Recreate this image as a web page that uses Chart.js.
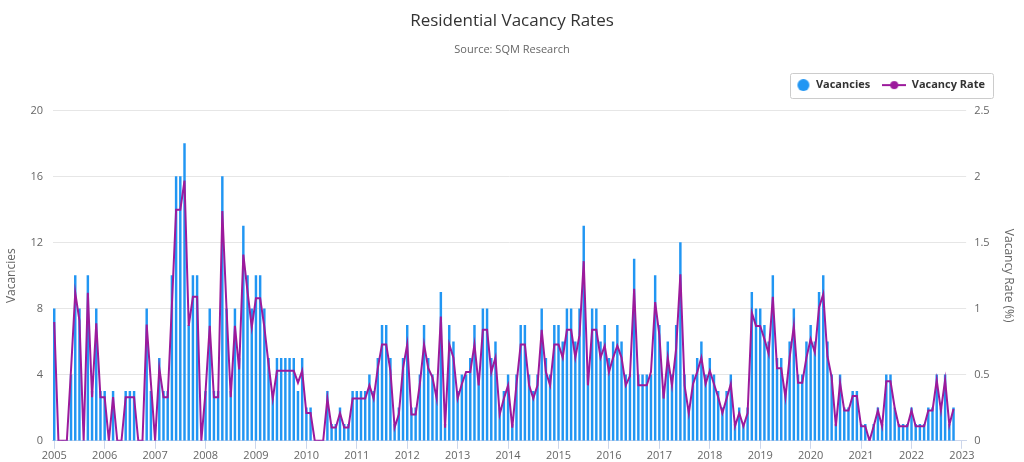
<!DOCTYPE html>
<html>
<head>
<meta charset="utf-8">
<script src="https://cdn.jsdelivr.net/npm/chart.js@4.4.0/dist/chart.umd.min.js"></script>
<style>
    html, body { margin: 0; padding: 0; background: #fff; }
    #wrap { width: 1024px; height: 462px; }
</style>
</head>
<body>
<div id="wrap"><canvas id="vacancyChart"></canvas></div>
<script>
// =============================================
// DATA (monthly, Jan 2005 - Nov 2022)
// =============================================
const yearTicks = ['2005', '2006', '2007', '2008', '2009', '2010', '2011', '2012', '2013', '2014',
    '2015', '2016', '2017', '2018', '2019', '2020', '2021', '2022', '2023'];

const vacancies = [
    8, 0, 0, 0, 4, 10, 8, 0, 10, 3, 8, 3,          // 2005
    3, 0, 3, 0, 0, 3, 3, 3, 0, 0, 8, 3,            // 2006
    0, 5, 3, 3, 10, 16, 16, 18, 7, 10, 10, 0,      // 2007
    3, 8, 3, 3, 16, 8, 3, 8, 5, 13, 10, 8,         // 2008
    10, 10, 8, 5, 3, 5, 5, 5, 5, 5, 3, 5,          // 2009
    2, 2, 0, 0, 0, 3, 1, 1, 2, 1, 1, 3,            // 2010
    3, 3, 3, 4, 3, 5, 7, 7, 5, 1, 2, 5,            // 2011
    7, 2, 2, 4, 7, 5, 4, 3, 9, 1, 7, 6,            // 2012
    3, 4, 4, 5, 7, 4, 8, 8, 5, 6, 2, 3,            // 2013
    4, 1, 4, 7, 7, 4, 3, 4, 8, 5, 4, 7,            // 2014
    7, 6, 8, 8, 6, 8, 13, 4, 8, 8, 6, 7,           // 2015
    5, 6, 7, 6, 4, 4, 11, 4, 4, 4, 4, 10,          // 2016
    7, 3, 6, 4, 7, 12, 4, 2, 4, 5, 6, 4,           // 2017
    5, 4, 3, 2, 3, 4, 1, 2, 1, 2, 9, 8,            // 2018
    8, 7, 6, 10, 5, 5, 3, 6, 8, 4, 4, 6,           // 2019
    7, 6, 9, 10, 6, 4, 1, 4, 2, 2, 3, 3,           // 2020
    1, 1, 0, 1, 2, 1, 4, 4, 2, 1, 1, 1,            // 2021
    2, 1, 1, 1, 2, 2, 4, 2, 4, 1, 2                // 2022
];

const vacancyRate = [
    0.90, 0, 0, 0, 0.54, 1.12, 0.91, 0, 1.12, 0.33, 0.89, 0.33,
    0.33, 0, 0.33, 0, 0, 0.33, 0.33, 0.33, 0, 0, 0.88, 0.44,
    0, 0.55, 0.33, 0.33, 1.03, 1.75, 1.75, 1.97, 0.87, 1.09, 1.09, 0,
    0.37, 0.87, 0.33, 0.33, 1.74, 1.00, 0.33, 0.87, 0.54, 1.41, 1.13, 0.86,
    1.08, 1.08, 0.86, 0.58, 0.32, 0.53, 0.53, 0.53, 0.53, 0.53, 0.44, 0.53,
    0.21, 0.21, 0, 0, 0, 0.32, 0.10, 0.10, 0.21, 0.10, 0.10, 0.32,
    0.32, 0.32, 0.32, 0.42, 0.32, 0.55, 0.73, 0.73, 0.53, 0.10, 0.20, 0.55,
    0.73, 0.20, 0.20, 0.43, 0.73, 0.55, 0.48, 0.32, 0.94, 0.10, 0.73, 0.63,
    0.32, 0.43, 0.52, 0.52, 0.73, 0.42, 0.84, 0.84, 0.52, 0.63, 0.20, 0.32,
    0.42, 0.10, 0.43, 0.73, 0.73, 0.42, 0.32, 0.42, 0.84, 0.52, 0.42, 0.73,
    0.73, 0.63, 0.84, 0.84, 0.63, 0.80, 1.36, 0.42, 0.84, 0.84, 0.63, 0.72,
    0.52, 0.63, 0.72, 0.63, 0.42, 0.49, 1.15, 0.42, 0.42, 0.42, 0.52, 1.05,
    0.80, 0.32, 0.63, 0.42, 0.70, 1.26, 0.42, 0.21, 0.43, 0.52, 0.63, 0.43,
    0.53, 0.43, 0.33, 0.21, 0.32, 0.43, 0.11, 0.21, 0.11, 0.21, 0.97, 0.87,
    0.87, 0.77, 0.66, 1.09, 0.55, 0.55, 0.33, 0.63, 0.87, 0.44, 0.44, 0.63,
    0.77, 0.67, 1.01, 1.11, 0.64, 0.48, 0.11, 0.44, 0.23, 0.23, 0.34, 0.34,
    0.11, 0.11, 0, 0.11, 0.23, 0.11, 0.45, 0.45, 0.25, 0.11, 0.11, 0.11,
    0.23, 0.11, 0.11, 0.11, 0.23, 0.23, 0.46, 0.23, 0.46, 0.12, 0.24
];

const BAR_COLOR = '#2196f3';
const LINE_COLOR = '#9c1a9c';
const FONT = "'Open Sans', 'DejaVu Sans', sans-serif";

// Legend icons (circle for bars, line+dot for rate)
function makeIcon(kind) {
    const c = document.createElement('canvas');
    c.width = 24;
    c.height = 12;
    const g = c.getContext('2d');
    if (kind === 'circle') {
        g.fillStyle = BAR_COLOR;
        g.beginPath();
        g.arc(17, 6, 6, 0, Math.PI * 2);
        g.fill();
    } else {
        g.strokeStyle = LINE_COLOR;
        g.lineWidth = 2;
        g.beginPath();
        g.moveTo(0, 6);
        g.lineTo(24, 6);
        g.stroke();
        g.fillStyle = LINE_COLOR;
        g.beginPath();
        g.arc(12, 6, 4, 0, Math.PI * 2);
        g.fill();
    }
    return c;
}
const icons = [makeIcon('circle'), makeIcon('line')];

// Legend tweaks: extra space below it, pulled in from the right, thin box around it
const LEGEND_RIGHT = 985;
const legendBox = {
    id: 'legendBox',
    beforeInit(chart) {
        const legend = chart.legend;
        if (!legend) return;
        const origFit = legend.fit;
        legend.fit = function () {
            origFit.call(this);
            this.height += 10;
        };
    },
    afterUpdate(chart) {
        const legend = chart.legend;
        const boxes = legend && legend.legendHitBoxes;
        if (!boxes || !boxes.length) return;
        const last = boxes[boxes.length - 1];
        const shift = last.left + last.width - LEGEND_RIGHT;
        legend.right -= shift;
        boxes.forEach(b => { b.left -= shift; });
    },
    afterDraw(chart) {
        const boxes = chart.legend && chart.legend.legendHitBoxes;
        if (!boxes || !boxes.length) return;
        const first = boxes[0];
        const last = boxes[boxes.length - 1];
        const left = first.left + 4;
        const right = last.left + last.width + 8;
        const mid = first.top + first.height / 2;
        const ctx = chart.ctx;
        ctx.save();
        ctx.strokeStyle = '#cccccc';
        ctx.lineWidth = 1;
        ctx.beginPath();
        ctx.roundRect(Math.round(left) + 0.5, Math.round(mid - 12.5) + 0.5, Math.round(right - left), 25, 2);
        ctx.stroke();
        ctx.restore();
    }
};

const ctx = document.getElementById('vacancyChart');

new Chart(ctx, {
    type: 'bar',
    data: {
        datasets: [
            {
                type: 'line',
                label: 'Vacancy Rate',
                data: vacancyRate.map((v, i) => ({ x: i, y: v })),
                yAxisID: 'y1',
                borderColor: LINE_COLOR,
                backgroundColor: LINE_COLOR,
                borderWidth: 2,
                pointRadius: 0,
                tension: 0,
                order: 0
            },
            {
                type: 'bar',
                label: 'Vacancies',
                data: vacancies.map((v, i) => ({ x: i, y: v })),
                yAxisID: 'y',
                backgroundColor: BAR_COLOR,
                barThickness: 1.8,
                order: 1
            }
        ]
    },
    options: {
        responsive: true,
        maintainAspectRatio: false,
        animation: false,
        layout: {
            padding: { left: 4, right: 4, top: 0, bottom: 0 }
        },
        plugins: {
            title: {
                display: true,
                text: 'Residential Vacancy Rates',
                color: '#333333',
                font: { family: FONT, size: 17, weight: 'normal' },
                padding: { top: 11, bottom: 12 }
            },
            subtitle: {
                display: true,
                text: 'Source: SQM Research',
                color: '#666666',
                font: { family: FONT, size: 11 },
                padding: { top: 0, bottom: 11 }
            },
            legend: {
                display: true,
                position: 'top',
                align: 'end',
                labels: {
                    usePointStyle: true,
                    pointStyleWidth: 24,
                    padding: 12,
                    color: '#333333',
                    font: { family: FONT, size: 11, weight: 'bold' },
                    generateLabels: function () {
                        return [
                            { text: 'Vacancies', pointStyle: icons[0], fontColor: '#333333', datasetIndex: 1, lineWidth: 0 },
                            { text: 'Vacancy Rate', pointStyle: icons[1], fontColor: '#333333', datasetIndex: 0, lineWidth: 0 }
                        ];
                    }
                }
            },
            tooltip: { enabled: false }
        },
        scales: {
            x: {
                type: 'linear',
                offset: false,
                min: -0.3,
                max: 217,
                afterBuildTicks: function (scale) {
                    scale.ticks = yearTicks.map((y, k) => ({ value: k * 12 }));
                },
                ticks: {
                    autoSkip: false,
                    maxRotation: 0,
                    padding: 0,
                    color: '#666666',
                    font: { family: FONT, size: 11 },
                    callback: function (value) {
                        return yearTicks[Math.round(value / 12)];
                    }
                },
                grid: {
                    offset: false,
                    drawOnChartArea: false,
                    drawTicks: true,
                    tickLength: 8,
                    color: '#ccd6eb'
                },
                border: { color: '#ccd6eb' }
            },
            y: {
                position: 'left',
                min: 0,
                max: 20,
                ticks: {
                    stepSize: 4,
                    padding: 10,
                    color: '#666666',
                    font: { family: FONT, size: 11 }
                },
                grid: { color: '#e6e6e6', drawTicks: false },
                border: { display: false },
                title: {
                    display: true,
                    text: 'Vacancies',
                    color: '#666666',
                    font: { family: FONT, size: 12 },
                    padding: { top: 0, bottom: 2 }
                }
            },
            y1: {
                position: 'right',
                min: 0,
                max: 2.5,
                ticks: {
                    stepSize: 0.5,
                    padding: 8,
                    color: '#666666',
                    font: { family: FONT, size: 11 },
                    callback: function (value) {
                        return String(value);
                    }
                },
                grid: { drawOnChartArea: false, drawTicks: false },
                border: { display: false },
                title: {
                    display: true,
                    text: 'Vacancy Rate (%)',
                    color: '#666666',
                    font: { family: FONT, size: 12 }
                }
            }
        }
    },
    plugins: [legendBox]
});
</script>
</body>
</html>
